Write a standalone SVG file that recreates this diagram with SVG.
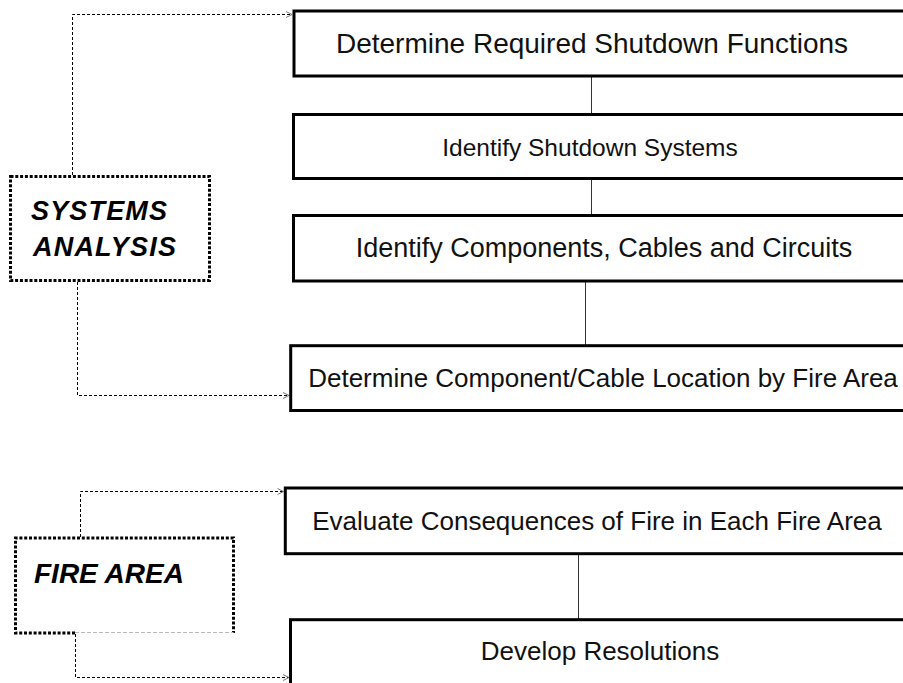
<svg xmlns="http://www.w3.org/2000/svg" width="903" height="683" viewBox="0 0 903 683">
  <style>
    .step rect { fill: #fff; stroke: #000; stroke-width: 3; }
    .step text { font-family: "Liberation Sans", Arial, sans-serif; fill: #111; text-anchor: middle; }
    .phase .frame { fill: #fff; stroke: #000; stroke-width: 3; stroke-dasharray: 3 1.8; }
    .phase text { font-family: "Liberation Sans", Arial, sans-serif; font-weight: bold; font-style: italic; fill: #000; }
    .link { fill: none; stroke: #333; stroke-width: 1; }
    .flow { fill: none; stroke: #000; stroke-width: 1; stroke-dasharray: 3 2; marker-end: url(#tip); }
  </style>
  <defs>
    <marker id="tip" markerWidth="8" markerHeight="8" refX="7" refY="4" orient="auto" markerUnits="userSpaceOnUse">
      <path d="M1,1 L7,4 L1,7" fill="none" stroke="#777" stroke-width="1"/>
    </marker>
  </defs>

  <rect width="903" height="683" fill="#fff"/>

  <!-- connectors -->
  <g id="connectors">
    <line class="link" x1="591.5" y1="76" x2="591.5" y2="114.5"/>
    <line class="link" x1="591.5" y1="178.5" x2="591.5" y2="215.5"/>
    <line class="link" x1="585.5" y1="281" x2="585.5" y2="345.7"/>
    <line class="link" x1="578.5" y1="553.7" x2="578.5" y2="619.7"/>
    <path class="flow" d="M72.5,175 V14.5 H292"/>
    <path class="flow" d="M77.5,282 V395.5 H289"/>
    <path class="flow" d="M80.5,537 V491.5 H283.5"/>
    <path class="flow" d="M75.5,634 V677.5 H289"/>
  </g>

  <!-- process steps -->
  <g id="step-functions" class="step">
    <rect x="294" y="11" width="640" height="65"/>
    <text x="592" y="53" font-size="28">Determine Required Shutdown Functions</text>
  </g>
  <g id="step-systems" class="step">
    <rect x="293.5" y="114.5" width="640" height="64"/>
    <text x="590" y="155.5" font-size="24.5">Identify Shutdown Systems</text>
  </g>
  <g id="step-components" class="step">
    <rect x="293.5" y="215.5" width="640" height="65.5"/>
    <text x="604" y="257" font-size="27">Identify Components, Cables and Circuits</text>
  </g>
  <g id="step-location" class="step">
    <rect x="290.7" y="345.7" width="640" height="64.8"/>
    <text x="603" y="387" font-size="26">Determine Component/Cable Location by Fire Area</text>
  </g>
  <g id="step-consequences" class="step">
    <rect x="285.3" y="488" width="640" height="65.7"/>
    <text x="597" y="530" font-size="26">Evaluate Consequences of Fire in Each Fire Area</text>
  </g>
  <g id="step-resolutions" class="step">
    <rect x="290.5" y="619.7" width="640" height="90"/>
    <text x="600" y="660" font-size="26">Develop Resolutions</text>
  </g>

  <!-- phase labels -->
  <g id="phase-systems-analysis" class="phase">
    <rect class="frame" x="10.5" y="176.5" width="199" height="104"/>
    <text x="31" y="220" font-size="27" textLength="136" lengthAdjust="spacing">SYSTEMS</text>
    <text x="33" y="256" font-size="27" textLength="143" lengthAdjust="spacing">ANALYSIS</text>
  </g>
  <g id="phase-fire-area" class="phase">
    <path class="frame" d="M75,633 H15.5 V538 H233.5 V633"/>
    <line x1="75" y1="632.5" x2="233.5" y2="632.5" stroke="#bbb" stroke-width="1" stroke-dasharray="4 2"/>
    <text x="34" y="583" font-size="28">FIRE AREA</text>
  </g>
</svg>
